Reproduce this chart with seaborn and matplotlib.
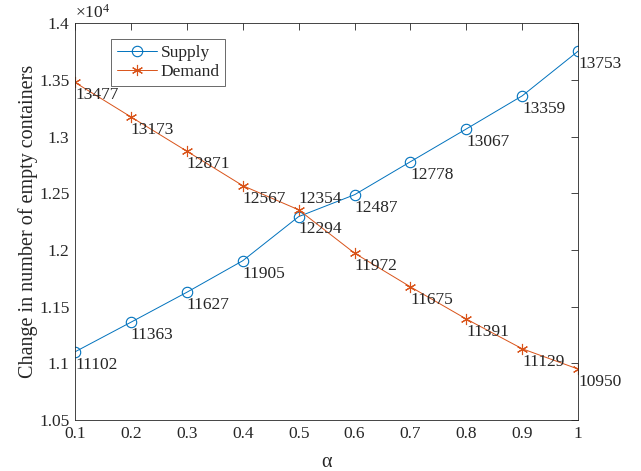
import numpy as np
import pandas as pd
import seaborn as sns
import matplotlib
matplotlib.use("Agg")
import matplotlib.pyplot as plt

alpha = [0.1, 0.2, 0.3, 0.4, 0.5, 0.6, 0.7, 0.8, 0.9, 1.0]
supply = [11102, 11363, 11627, 11905, 12294, 12487, 12778, 13067, 13359, 13753]
demand = [13477, 13173, 12871, 12567, 12354, 11972, 11675, 11391, 11129, 10950]
xticks = [0.1, 0.2, 0.3, 0.4, 0.5, 0.6, 0.7, 0.8, 0.9, 1.0]
xtick_labels = ["0.1", "0.2", "0.3", "0.4", "0.5", "0.6", "0.7", "0.8", "0.9", "1"]
yticks = [10500, 11000, 11500, 12000, 12500, 13000, 13500, 14000]
ytick_labels = ["1.05", "1.1", "1.15", "1.2", "1.25", "1.3", "1.35", "1.4"]

sns.set_style("white")
plt.rcParams["font.family"] = ["Liberation Serif", "DejaVu Serif"]
plt.rcParams["mathtext.fontset"] = "custom"
plt.rcParams["mathtext.rm"] = "Liberation Serif"
plt.rcParams["mathtext.it"] = "Liberation Serif:italic"

df = pd.DataFrame({"alpha": alpha, "Supply": supply, "Demand": demand})

blue = "#0072BD"
orange = "#D95319"
dark = "#262626"
fs = 12.5

fig = plt.figure(figsize=(6.41, 4.71), dpi=100)
ax = fig.add_axes([0.117, 0.108, 0.785, 0.843])

sns.lineplot(data=df, x="alpha", y="Supply", ax=ax, color=blue, lw=0.7,
             marker="o", markersize=7.5, markerfacecolor="none",
             markeredgecolor=blue, markeredgewidth=0.8, label="Supply")
sns.lineplot(data=df, x="alpha", y="Demand", ax=ax, color=orange, lw=0.7,
             marker=(6, 2, 0), markersize=8, markerfacecolor="none",
             markeredgecolor=orange, markeredgewidth=0.8, label="Demand")

# value labels, below-right of each point (12354 sits above)
for x, y in zip(alpha, supply):
    ax.annotate(str(y), (x, y), xytext=(0, -3.5), textcoords="offset points",
                ha="left", va="top", fontsize=fs)
for x, y in zip(alpha, demand):
    if y == 12354:
        ax.annotate(str(y), (x, y), xytext=(0, 2), textcoords="offset points",
                    ha="left", va="bottom", fontsize=fs)
    else:
        ax.annotate(str(y), (x, y), xytext=(0, -3.5), textcoords="offset points",
                    ha="left", va="top", fontsize=fs)

ax.set_xlim(0.1, 1.0)
ax.set_ylim(10500, 14000)
ax.set_xticks(xticks)
ax.set_xticklabels(xtick_labels)
ax.set_yticks(yticks)
ax.set_yticklabels(ytick_labels)
ax.tick_params(direction="in", length=5, width=0.6, top=True, right=True,
               labelsize=fs, colors=dark, pad=4)
for s in ax.spines.values():
    s.set_color(dark)
    s.set_linewidth(0.6)

ax.set_xlabel("α", fontsize=14.5, color=dark, labelpad=8)
ax.set_ylabel("Change in number of empty containers", fontsize=14.5, color=dark, labelpad=1)
ax.text(0.0, 1.003, r"$\times10^{4}$", transform=ax.transAxes, ha="left", va="bottom",
        fontsize=fs, color=dark)

leg = ax.legend(loc="upper left", bbox_to_anchor=(0.062, 0.972), fontsize=fs,
                frameon=True, fancybox=False, edgecolor=dark,
                handlelength=2.3, borderpad=0.3, labelspacing=0.2,
                handletextpad=0.25, borderaxespad=0.3)
leg.get_frame().set_linewidth(0.6)

fig.savefig("out.png", dpi=100)
